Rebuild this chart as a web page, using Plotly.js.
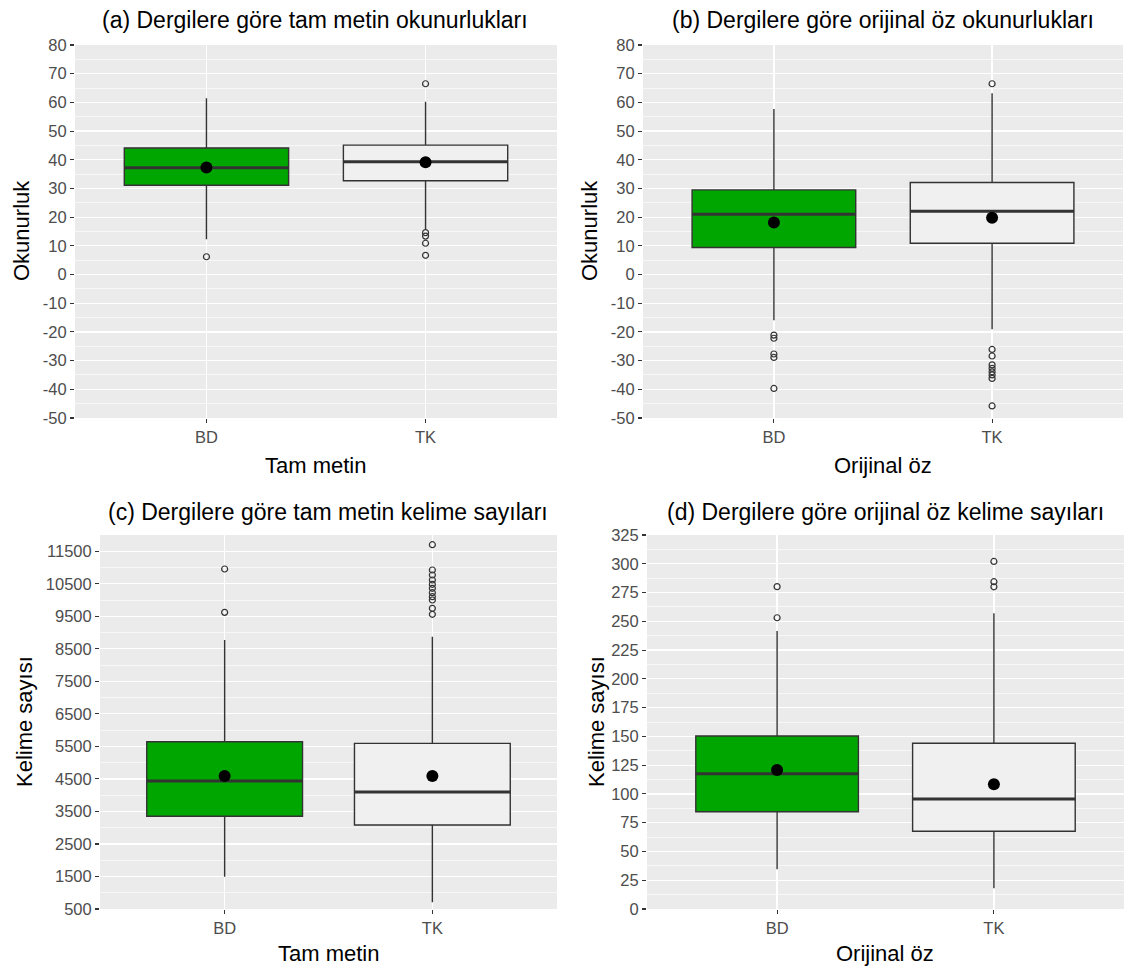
<!DOCTYPE html>
<html>
<head>
<meta charset="utf-8">
<script src="https://cdn.plot.ly/plotly-3.0.1.min.js"></script>
<style>html,body{margin:0;padding:0;background:#fff;}#chart{width:1124px;height:969px;}</style>
</head>
<body>
<div id="chart"></div>
<script>
// ---- data ----
const categories = ['BD', 'TK'];
const fillColors = ['#00A600', '#F0F0F0'];

// (a) tam metin okunurluk
const aQ1 = [31.1, 32.7];
const aMedian = [37.2, 39.3];
const aQ3 = [44.1, 45.1];
const aLowerWhisker = [12.3, 15.9];
const aUpperWhisker = [61.4, 60.2];
const aMean = [37.3, 39.1];
const aOutliersBD = [6.2];
const aOutliersTK = [66.5, 14.6, 13.4, 10.9, 6.7];

// (b) orijinal öz okunurluk
const bQ1 = [9.4, 10.9];
const bMedian = [21.0, 22.1];
const bQ3 = [29.5, 32.1];
const bLowerWhisker = [-15.9, -19.1];
const bUpperWhisker = [57.7, 63.2];
const bMean = [18.1, 19.8];
const bOutliersBD = [-21.1, -22.2, -27.7, -28.9, -39.7];
const bOutliersTK = [66.5, -26.1, -28.4, -31.5, -32.7, -33.9, -35.0, -36.2, -45.8];

// (c) tam metin kelime sayısı
const cQ1 = [3350, 3083];
const cMedian = [4436, 4098];
const cQ3 = [5645, 5594];
const cLowerWhisker = [1494, 706];
const cUpperWhisker = [8771, 8873];
const cMean = [4590, 4590];
const cOutliersBD = [10955, 9622];
const cOutliersTK = [11702, 10924, 10770, 10616, 10484, 10361, 10226, 10103, 10001, 9746, 9562];

// (d) orijinal öz kelime sayısı
const dQ1 = [84.5, 67.5];
const dMedian = [117.5, 95.6];
const dQ3 = [150.3, 144.0];
const dLowerWhisker = [34.5, 18.0];
const dUpperWhisker = [241.6, 257.0];
const dMean = [120.8, 108.4];
const dOutliersBD = [280.1, 253.1];
const dOutliersTK = [302.0, 284.4, 280.0];

// tick values
const ticksOkunurluk = [-50, -40, -30, -20, -10, 0, 10, 20, 30, 40, 50, 60, 70, 80];
const ticksKelimeTam = [500, 1500, 2500, 3500, 4500, 5500, 6500, 7500, 8500, 9500, 10500, 11500];
const ticksKelimeOz = [0, 25, 50, 75, 100, 125, 150, 175, 200, 225, 250, 275, 300, 325];

// titles
const panelTitles = [
  '(a) Dergilere göre tam metin okunurlukları',
  '(b) Dergilere göre orijinal öz okunurlukları',
  '(c) Dergilere göre tam metin kelime sayıları',
  '(d) Dergilere göre orijinal öz kelime sayıları'
];
const xTitles = ['Tam metin', 'Orijinal öz', 'Tam metin', 'Orijinal öz'];
const yTitles = ['Okunurluk', 'Okunurluk', 'Kelime sayısı', 'Kelime sayısı'];

// ---- build ----
const FONT = 'Liberation Sans, Arial, sans-serif';
const BOXW = 0.75;
const TICKSIZE = 16.5;
const panels = [
  {q1: aQ1, med: aMedian, q3: aQ3, lo: aLowerWhisker, hi: aUpperWhisker, mean: aMean, out: [aOutliersBD, aOutliersTK]},
  {q1: bQ1, med: bMedian, q3: bQ3, lo: bLowerWhisker, hi: bUpperWhisker, mean: bMean, out: [bOutliersBD, bOutliersTK]},
  {q1: cQ1, med: cMedian, q3: cQ3, lo: cLowerWhisker, hi: cUpperWhisker, mean: cMean, out: [cOutliersBD, cOutliersTK]},
  {q1: dQ1, med: dMedian, q3: dQ3, lo: dLowerWhisker, hi: dUpperWhisker, mean: dMean, out: [dOutliersBD, dOutliersTK]}
];

const traces = [];
panels.forEach((p, k) => {
  const xa = k === 0 ? 'x' : 'x' + (k + 1);
  const ya = k === 0 ? 'y' : 'y' + (k + 1);
  categories.forEach((c, i) => {
    traces.push({
      type: 'box', x: [i], q1: [p.q1[i]], median: [p.med[i]], q3: [p.q3[i]],
      lowerfence: [p.lo[i]], upperfence: [p.hi[i]],
      width: BOXW, whiskerwidth: 0, boxpoints: false,
      fillcolor: fillColors[i], line: {color: '#333333', width: 1.4},
      xaxis: xa, yaxis: ya, showlegend: false, hoverinfo: 'skip'
    });
    // thicker median line (ggplot style)
    traces.push({
      type: 'scatter', mode: 'lines', x: [i - BOXW / 2, i + BOXW / 2], y: [p.med[i], p.med[i]],
      line: {color: '#333333', width: 3}, xaxis: xa, yaxis: ya, showlegend: false, hoverinfo: 'skip'
    });
    // outliers
    traces.push({
      type: 'scatter', mode: 'markers', x: p.out[i].map(() => i), y: p.out[i],
      marker: {symbol: 'circle-open', size: 6, color: '#333333', line: {width: 1.2, color: '#333333'}},
      xaxis: xa, yaxis: ya, showlegend: false, hoverinfo: 'skip'
    });
  });
  // means
  traces.push({
    type: 'scatter', mode: 'markers', x: categories.map((c, i) => i), y: p.mean,
    marker: {symbol: 'circle', size: 12, color: '#000000'},
    xaxis: xa, yaxis: ya, showlegend: false, hoverinfo: 'skip'
  });
});

function mids(arr) {
  const r = [];
  for (let i = 0; i < arr.length - 1; i++) r.push((arr[i] + arr[i + 1]) / 2);
  return r;
}

function xAxis(domain, anchor) {
  return {
    domain: domain, anchor: anchor, range: [-0.6, 1.6],
    tickmode: 'array', tickvals: [0, 1], ticktext: categories,
    showgrid: true, gridcolor: '#FFFFFF', gridwidth: 1.2, zeroline: false, showline: false,
    ticks: 'outside', ticklen: 4, tickwidth: 1.1, tickcolor: '#333333',
    tickfont: {family: FONT, size: TICKSIZE, color: '#4D4D4D'}, fixedrange: true
  };
}
function yAxis(domain, anchor, range, ticks, extraMinor) {
  const minorVals = mids(ticks).concat(extraMinor || []);
  return {
    domain: domain, anchor: anchor, range: range,
    tickmode: 'array', tickvals: ticks, ticktext: ticks.map(v => String(v)),
    showgrid: true, gridcolor: '#FFFFFF', gridwidth: 1.2, zeroline: false, showline: false,
    ticks: 'outside', ticklen: 4, tickwidth: 1.1, tickcolor: '#333333',
    tickfont: {family: FONT, size: TICKSIZE, color: '#4D4D4D'},
    minor: {tickmode: 'array', tickvals: minorVals, showgrid: true, gridcolor: '#FFFFFF', gridwidth: 0.6, ticks: ''},
    fixedrange: true
  };
}

const W = 1124, H = 969;
const px = v => v / W;
const py = v => 1 - v / H;
const topY = [py(418), py(45)];
const botY = [py(909), py(535)];

const layout = {
  width: W, height: H,
  margin: {l: 0, r: 0, t: 0, b: 0},
  paper_bgcolor: '#FFFFFF', plot_bgcolor: '#EBEBEB',
  font: {family: FONT},
  showlegend: false,
  xaxis: xAxis([px(75), px(557)], 'y'),
  yaxis: yAxis(topY, 'x', [-50, 80], ticksOkunurluk),
  xaxis2: xAxis([px(643), px(1123)], 'y2'),
  yaxis2: yAxis(topY, 'x2', [-50, 80], ticksOkunurluk),
  xaxis3: xAxis([px(100), px(557)], 'y3'),
  yaxis3: yAxis(botY, 'x3', [500, 12000], ticksKelimeTam, [12000]),
  xaxis4: xAxis([px(647), px(1124)], 'y4'),
  yaxis4: yAxis(botY, 'x4', [0, 325], ticksKelimeOz),
  annotations: []
};

const titlePos = [[315, 20], [883, 20], [328, 512], [885, 512]];
const xTitlePos = [[315, 465], [883, 465], [328, 953], [885, 953]];
const yTitlePos = [[22, 231], [590, 231], [24, 722], [596, 722]];
for (let k = 0; k < 4; k++) {
  layout.annotations.push({
    text: panelTitles[k], xref: 'paper', yref: 'paper', x: px(titlePos[k][0]), y: py(titlePos[k][1]),
    xanchor: 'center', yanchor: 'middle', showarrow: false, font: {family: FONT, size: 23, color: '#000000'}
  });
  layout.annotations.push({
    text: xTitles[k], xref: 'paper', yref: 'paper', x: px(xTitlePos[k][0]), y: py(xTitlePos[k][1]),
    xanchor: 'center', yanchor: 'middle', showarrow: false, font: {family: FONT, size: 22, color: '#000000'}
  });
  layout.annotations.push({
    text: yTitles[k], xref: 'paper', yref: 'paper', x: px(yTitlePos[k][0]), y: py(yTitlePos[k][1]),
    xanchor: 'center', yanchor: 'middle', textangle: -90, showarrow: false, font: {family: FONT, size: 22, color: '#000000'}
  });
}

Plotly.newPlot('chart', traces, layout, {staticPlot: true, displayModeBar: false});
</script>
</body>
</html>
